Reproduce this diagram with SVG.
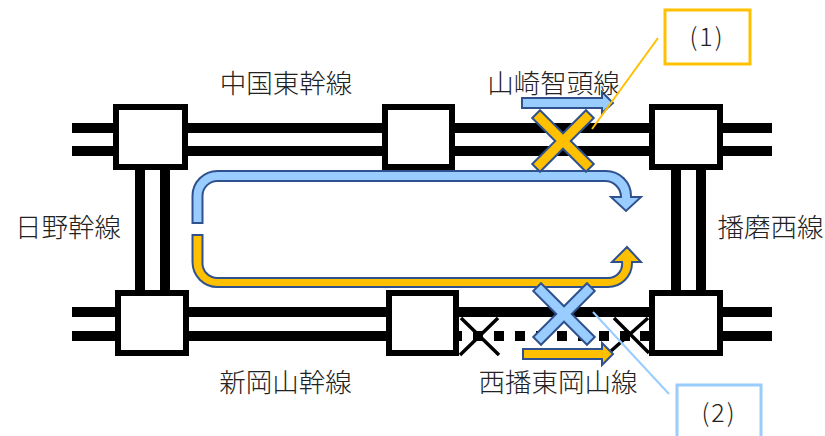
<svg xmlns="http://www.w3.org/2000/svg" width="825" height="436" viewBox="0 0 825 436">
<style>
.track{fill:#000}
.node{fill:#fff;stroke:#000;stroke-width:6}
.flow{stroke:#2f528f;stroke-width:2;stroke-linejoin:miter}
.blue{fill:#99ccff}
.orange{fill:#ffc000}
.label{font-family:"Noto Sans CJK JP","Noto Sans CJK SC",sans-serif;font-weight:300;font-size:26.500px;fill:#222;text-anchor:middle}
.num{font-family:"Noto Sans CJK JP",sans-serif;font-weight:300;font-size:25px;letter-spacing:2px;fill:#222;text-anchor:middle}
</style>
<defs>
<polygon id="cross" points="-38,-5.500 -5.500,-5.500 -5.500,-38 5.500,-38 5.500,-5.500 38,-5.500 38,5.500 5.500,5.500 5.500,38 -5.500,38 -5.500,5.500 -38,5.500"/>
</defs>
<g id="connectors">
<rect class="track" x="72" y="123" width="700" height="10"/>
<rect class="track" x="72" y="146" width="700" height="10"/>
<rect class="track" x="72" y="307" width="700" height="10"/>
<rect class="track" x="72" y="331" width="390" height="10"/>
<rect class="track" x="640" y="331" width="132" height="10"/>
<path d="M473 336H640" stroke="#000" stroke-width="10" stroke-dasharray="10 11" fill="none"/>
<rect class="track" x="135" y="165" width="10" height="130"/>
<rect class="track" x="160" y="165" width="10" height="130"/>
<rect class="track" x="671" y="165" width="10" height="130"/>
<rect class="track" x="696" y="165" width="10" height="130"/>
<path d="M461 318L499 355M498 318L460 355M614 318L649 353M648 318L611 351" stroke="#000" stroke-width="3.500" fill="none"/>
</g>
<g id="node-tl"><rect class="node" x="116" y="107" width="69" height="60"/></g>
<g id="node-tm"><rect class="node" x="385" y="107" width="67" height="60"/></g>
<g id="node-tr"><rect class="node" x="652" y="107" width="68" height="60"/></g>
<g id="node-bl"><rect class="node" x="118" y="293" width="68" height="60"/></g>
<g id="node-bm"><rect class="node" x="389" y="293" width="67" height="60"/></g>
<g id="node-br"><rect class="node" x="652" y="293" width="68" height="60"/></g>
<g id="flows">
<path class="flow blue" d="M192.500 223V196A25 25 0 0 1 217.500 171H606A25 25 0 0 1 631 196V197H641L626 211L611 197H621A16 16 0 0 0 605 181H217.500A15 15 0 0 0 202.500 196V223Z"/>
<path class="flow orange" d="M192.500 235V262A25 25 0 0 0 217.500 287H608A24 24 0 0 0 632 263V262H641L627 247L612 262H622A14 14 0 0 1 608 278H217.500A15 15 0 0 1 202.500 262V235Z"/>
<polygon class="flow blue" points="522,98 602,98 602,92 613,103 602,113 602,108 522,108"/>
<polygon class="flow orange" points="523,349 602,349 602,343 613,354 602,365 602,359 523,359"/>
<use href="#cross" class="flow orange" transform="translate(563 141) rotate(45)"/>
<use href="#cross" class="flow blue" transform="translate(564 314) rotate(45)"/>
</g>
<g id="labels">
<text class="label" x="286" y="93">中国東幹線</text>
<text class="label" x="553.500" y="93">山崎智頭線</text>
<text class="label" x="68" y="237">日野幹線</text>
<text class="label" x="770.500" y="237">播磨西線</text>
<text class="label" x="285.500" y="392">新岡山幹線</text>
<text class="label" x="558" y="392">西播東岡山線</text>
</g>
<g id="callout-1">
<path d="M658 38L592 129" stroke="#ffc000" stroke-width="2" fill="none"/>
<rect x="665" y="10" width="85" height="54" fill="#fff" stroke="#ffc000" stroke-width="3"/>
<text class="num" x="707" y="46">(1)</text>
</g>
<g id="callout-2">
<path d="M669 394L593 312" stroke="#99ccff" stroke-width="2" fill="none"/>
<rect x="677" y="385" width="84" height="60" fill="#fff" stroke="#99ccff" stroke-width="3"/>
<text class="num" x="719" y="422">(2)</text>
</g>
</svg>
